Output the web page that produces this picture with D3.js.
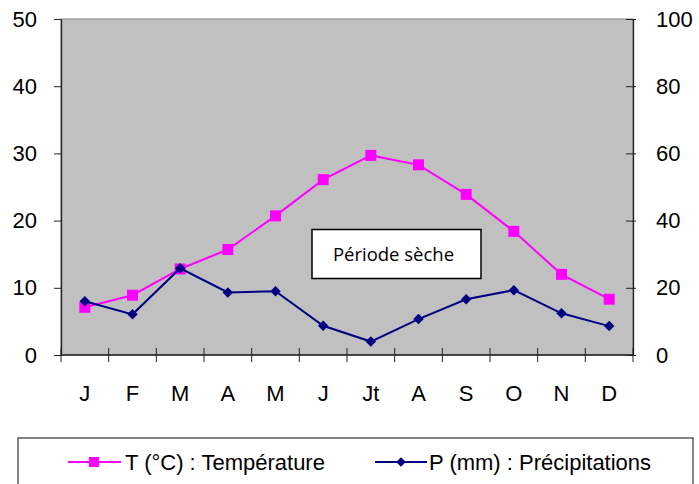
<!DOCTYPE html>
<html>
<head>
<meta charset="utf-8">
<script src="https://cdn.jsdelivr.net/npm/d3@7"></script>
<style>
  html, body { margin: 0; padding: 0; background: #fff; }
  svg { display: block; font-family: "Liberation Sans", Arial, sans-serif; }
</style>
</head>
<body>
<svg id="chart" width="699" height="484"></svg>
<script>
const months = ["J", "F", "M", "A", "M", "J", "Jt", "A", "S", "O", "N", "D"];
const temperature = [7.1, 8.9, 12.8, 15.7, 20.7, 26.1, 29.7, 28.3, 23.9, 18.4, 12.0, 8.3];
const precipitation = [16.0, 12.1, 25.8, 18.6, 19.0, 8.7, 4.0, 10.7, 16.6, 19.3, 12.4, 8.6];
const leftTicks = [0, 10, 20, 30, 40, 50];
const rightTicks = [0, 20, 40, 60, 80, 100];
const legendLabels = ["T (°C) : Température", "P (mm) : Précipitations"];
const annotationText = "Période sèche";

const svg = d3.select("#chart");
const M = { left: 61, top: 19, right: 66, bottom: 129 };
const W = 699 - M.left - M.right;   // 572
const H = 484 - M.top - M.bottom;   // 336

const g = svg.append("g").attr("transform", `translate(${M.left},${M.top})`);

const idx = months.map((d, i) => i);
const x = d3.scaleBand().domain(idx).range([0, W]).padding(0);
const xEdge = d3.scaleLinear().domain([0, months.length]).range([0, W]);
const yL = d3.scaleLinear().domain([0, 50]).range([H, 0]);
const yR = d3.scaleLinear().domain([0, 100]).range([H, 0]);

// plot background
g.append("rect").attr("x", 0).attr("y", 0).attr("width", W).attr("height", H)
  .attr("fill", "#c0c0c0").attr("stroke", "#808080").attr("stroke-width", 1);

// left axis
const axL = g.append("g").call(d3.axisLeft(yL).tickValues(leftTicks).tickSizeInner(7).tickSizeOuter(0).tickPadding(17));
axL.select(".domain").attr("stroke", "#222").attr("stroke-width", 1.3);
axL.selectAll(".tick line").attr("stroke", "#222");
axL.selectAll("text").attr("font-size", 22).attr("fill", "#000").attr("font-family", "Liberation Sans, Arial, sans-serif");

// right axis
const axR = g.append("g").attr("transform", `translate(${W},0)`)
  .call(d3.axisRight(yR).tickValues(rightTicks).tickSizeInner(3).tickSizeOuter(0).tickPadding(20));
axR.select(".domain").attr("stroke", "#222").attr("stroke-width", 1.3);
axR.selectAll(".tick line").attr("stroke", "#222").attr("x1", -7);
axR.selectAll("text").attr("font-size", 22).attr("fill", "#000").attr("font-family", "Liberation Sans, Arial, sans-serif");

// bottom axis: crossing ticks at category boundaries
const axB = g.append("g").attr("transform", `translate(0,${H})`);
axB.append("line").attr("x1", 0).attr("x2", W).attr("y1", 0).attr("y2", 0).attr("stroke", "#222").attr("stroke-width", 1.3);
axB.selectAll("line.tk").data(d3.range(months.length + 1)).join("line").attr("class", "tk")
  .attr("x1", d => xEdge(d)).attr("x2", d => xEdge(d)).attr("y1", -7).attr("y2", 7)
  .attr("stroke", "#222");
axB.selectAll("text").data(idx).join("text")
  .attr("x", d => x(d) + x.bandwidth() / 2).attr("y", 46)
  .attr("text-anchor", "middle").attr("font-size", 22).attr("fill", "#000")
  .text(d => months[d]);

// annotation box
const ann = svg.append("g");
ann.append("rect").attr("x", 312).attr("y", 229.5).attr("width", 169).attr("height", 49)
  .attr("fill", "#fff").attr("stroke", "#000").attr("stroke-width", 1.5);
ann.append("text").attr("x", 393.5).attr("y", 260.5).attr("text-anchor", "middle")
  .attr("font-family", "Open Sans, Noto Sans, sans-serif").attr("font-size", 18.5).attr("fill", "#000")
  .text(annotationText);

const cx = i => x(i) + x.bandwidth() / 2;
const magenta = "#ff00ff", navy = "#000080";

// temperature line
g.append("path").datum(temperature)
  .attr("d", d3.line().x((d, i) => cx(i)).y(d => yL(d)))
  .attr("fill", "none").attr("stroke", magenta).attr("stroke-width", 2);
const sq = 11;
g.selectAll("rect.tm").data(temperature).join("rect").attr("class", "tm")
  .attr("x", (d, i) => cx(i) - sq / 2).attr("y", d => yL(d) - sq / 2)
  .attr("width", sq).attr("height", sq).attr("fill", magenta);

// precipitation line
g.append("path").datum(precipitation)
  .attr("d", d3.line().x((d, i) => cx(i)).y(d => yR(d)))
  .attr("fill", "none").attr("stroke", navy).attr("stroke-width", 2);
const diamond = d3.symbol().type(d3.symbolDiamond2).size(70);
g.selectAll("path.pm").data(precipitation).join("path").attr("class", "pm")
  .attr("transform", (d, i) => `translate(${cx(i)},${yR(d)})`)
  .attr("d", diamond).attr("fill", navy);

// legend
const lg = svg.append("g");
lg.append("rect").attr("x", 18).attr("y", 438).attr("width", 675).attr("height", 70)
  .attr("fill", "#fff").attr("stroke", "#333").attr("stroke-width", 1.2);
const ly = 462;
lg.append("line").attr("x1", 68).attr("x2", 121).attr("y1", ly).attr("y2", ly).attr("stroke", magenta).attr("stroke-width", 2);
lg.append("rect").attr("x", 94 - 5).attr("y", ly - 5).attr("width", 10).attr("height", 10).attr("fill", magenta);
lg.append("text").attr("x", 125).attr("y", 470).attr("font-size", 22).attr("fill", "#000").text(legendLabels[0]);
lg.append("line").attr("x1", 375).attr("x2", 427).attr("y1", ly).attr("y2", ly).attr("stroke", navy).attr("stroke-width", 2);
lg.append("path").attr("transform", `translate(401,${ly})`).attr("d", d3.symbol().type(d3.symbolDiamond2).size(60)).attr("fill", navy);
lg.append("text").attr("x", 429).attr("y", 470).attr("font-size", 22).attr("fill", "#000").text(legendLabels[1]);
</script>
</body>
</html>
